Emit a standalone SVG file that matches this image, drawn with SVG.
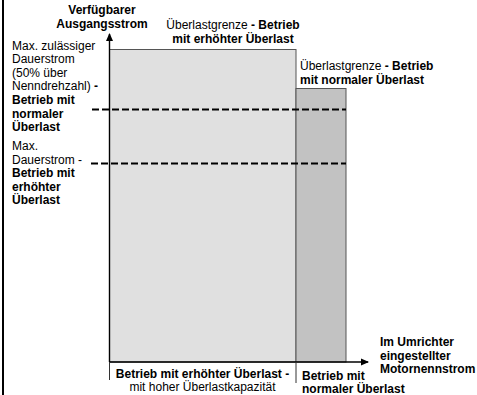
<svg xmlns="http://www.w3.org/2000/svg" width="477" height="395" viewBox="0 0 477 395">
<defs>
<style>
text{font-family:"Liberation Sans",Arial,sans-serif;font-size:12px;fill:#000}
.b{font-weight:bold}
.bar{stroke:#555;stroke-width:1}
.ax{stroke:#000;stroke-width:1.4;fill:none}
.dash{stroke:#000;stroke-width:2;stroke-dasharray:7 3;fill:none}
.tick{stroke:#333;stroke-width:1;fill:none}
</style>
<marker id="ah" markerWidth="8" markerHeight="8" refX="7" refY="4" orient="auto" markerUnits="userSpaceOnUse">
<path d="M0,0.5 L8,4 L0,7.5 Z" fill="#000"/>
</marker>
</defs>
<rect x="0" y="0" width="477" height="395" fill="#fff"/>
<rect x="2" y="0" width="2" height="395" fill="#000"/>
<g id="bar-high">
<rect class="bar" x="109.5" y="49.5" width="186.5" height="312.5" fill="#e0e0e0"/>
</g>
<g id="bar-normal">
<rect class="bar" x="296" y="88.5" width="50" height="273.5" fill="#c2c2c2"/>
</g>
<g id="connectors">
<line class="ax" x1="109.5" y1="362" x2="109.5" y2="34" marker-end="url(#ah)"/>
<line class="ax" x1="109.5" y1="362" x2="368" y2="362" marker-end="url(#ah)"/>
<line class="dash" x1="92" y1="109.5" x2="346" y2="109.5"/>
<line class="dash" x1="91" y1="163.5" x2="346" y2="163.5"/>
<line class="tick" x1="109.5" y1="362" x2="109.5" y2="380"/>
<line class="tick" x1="296" y1="362" x2="296" y2="383"/>
</g>
<g id="label-y-axis">
<text class="b" x="102" y="14" text-anchor="middle">Verfügbarer</text>
<text class="b" x="102" y="28" text-anchor="middle">Ausgangsstrom</text>
</g>
<g id="label-limit-high">
<text x="233" y="29" text-anchor="middle">Überlastgrenze<tspan class="b"> - Betrieb</tspan></text>
<text class="b" x="233" y="43" text-anchor="middle">mit erhöhter Überlast</text>
</g>
<g id="label-limit-normal">
<text x="300" y="70">Überlastgrenze<tspan class="b"> - Betrieb</tspan></text>
<text class="b" x="300" y="83.5">mit normaler Überlast</text>
</g>
<g id="label-max-normal">
<text x="12" y="49.5">Max. zulässiger</text>
<text x="12" y="63">Dauerstrom</text>
<text x="12" y="76.5">(50% über</text>
<text x="12" y="90">Nenndrehzahl)<tspan class="b"> -</tspan></text>
<text class="b" x="12" y="104">Betrieb mit</text>
<text class="b" x="12" y="117.5">normaler</text>
<text class="b" x="12" y="131">Überlast</text>
</g>
<g id="label-max-high">
<text x="12" y="150">Max.</text>
<text x="12" y="163.5">Dauerstrom -</text>
<text class="b" x="12" y="177">Betrieb mit</text>
<text class="b" x="12" y="190.5">erhöhter</text>
<text class="b" x="12" y="204">Überlast</text>
</g>
<g id="label-x-axis">
<text class="b" x="380" y="346">Im Umrichter</text>
<text class="b" x="380" y="359.5">eingestellter</text>
<text class="b" x="380" y="373">Motornennstrom</text>
</g>
<g id="label-mode-high">
<text class="b" x="202.5" y="378" text-anchor="middle">Betrieb mit erhöhter Überlast -</text>
<text x="202.5" y="391" text-anchor="middle">mit hoher Überlastkapazität</text>
</g>
<g id="label-mode-normal">
<text class="b" x="302" y="380">Betrieb mit</text>
<text class="b" x="302" y="393">normaler Überlast</text>
</g>
</svg>
